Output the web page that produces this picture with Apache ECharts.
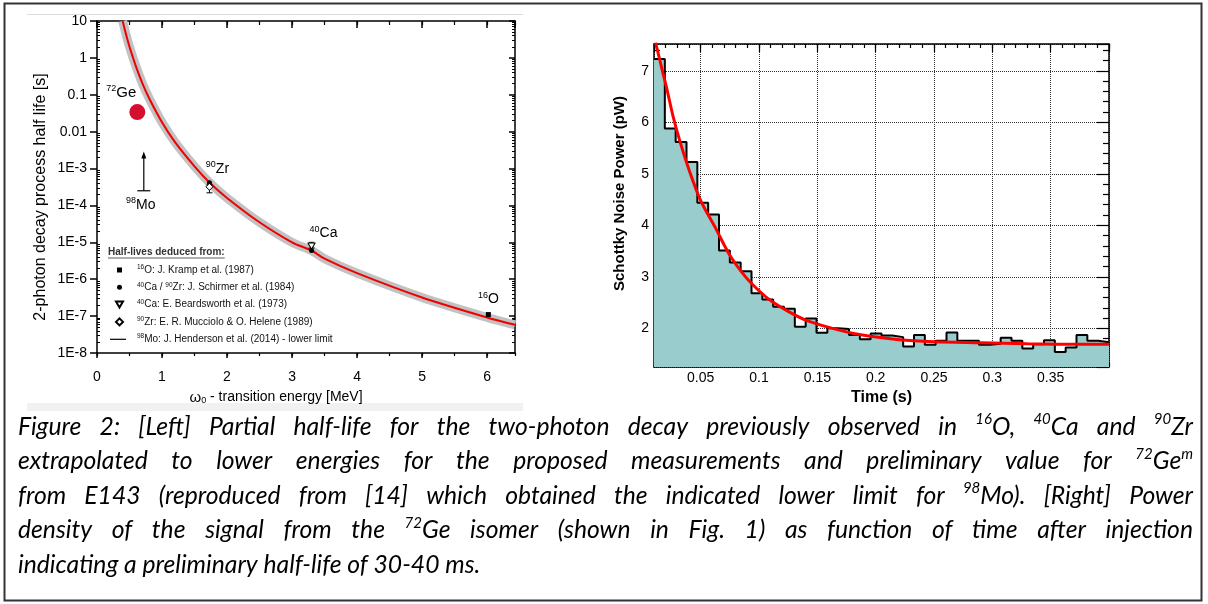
<!DOCTYPE html>
<html>
<head>
<meta charset="utf-8">
<script src="https://cdn.jsdelivr.net/npm/echarts@6.0.0/dist/echarts.min.js"></script>
<style>
html,body{margin:0;padding:0;background:#fff;}
#chart{width:1208px;height:604px;}
</style>
</head>
<body>
<div id="chart"></div>
<script>
// ================= LEFT PANEL DATA =================
// extrapolated partial half-life curve (energy MeV, half-life s)
const curveEnergy   = [0.395, 0.45, 0.5, 0.6, 0.7, 0.8, 1.0, 1.2, 1.5, 1.73, 2.0, 2.5, 3.0, 3.3, 3.5, 4.0, 5.0, 6.0, 6.43];
const curveHalfLife = [10, 4.1, 2.0, 0.58, 0.2, 0.082, 0.018, 5.2e-3, 1.15e-3, 4.2e-4, 1.6e-4, 3.5e-5, 1.0e-5, 6.0e-6, 3.6e-6, 1.46e-6, 3.2e-7, 9.2e-8, 5.8e-8];
// measured points
const krampO16        = [[6.02, 1.1e-7]];
const schirmerCaZr    = [[3.30, 6.0e-6], [1.73, 4.1e-4]];
const beardsworthCa40 = [[3.30, 7.9e-6]];
const beardsworthErr  = [[3.30, 7.0e-6, 1.0e-5]];
const muccioloZr90    = [[1.73, 3.2e-4]];
const muccioloErr     = [[1.73, 2.2e-4, 3.6e-4]];
const ge72            = [[0.62, 0.034]];
const hendersonMo98   = [[0.72, 2.5e-4, 2.9e-3]]; // energy, lower limit, arrow tip
const leftYTickLabels = {'1':'10','0':'1','-1':'0.1','-2':'0.01','-3':'1E-3','-4':'1E-4','-5':'1E-5','-6':'1E-6','-7':'1E-7','-8':'1E-8'};
const legendNames = [
  '16O: J. Kramp et al. (1987)',
  '40Ca / 90Zr: J. Schirmer et al. (1984)',
  '40Ca: E. Beardsworth et al. (1973)',
  '90Zr: E. R. Mucciolo & O. Helene (1989)',
  '98Mo: J. Henderson et al. (2014) - lower limit'
];
const legendRich = [
  '{sup|16}O: J. Kramp et al. (1987)',
  '{sup|40}Ca / {sup|90}Zr: J. Schirmer et al. (1984)',
  '{sup|40}Ca: E. Beardsworth et al. (1973)',
  '{sup|90}Zr: E. R. Mucciolo & O. Helene (1989)',
  '{sup|98}Mo: J. Henderson et al. (2014) - lower limit'
];

// ================= RIGHT PANEL DATA =================
const binStart = 0.01, binEnd = 0.4;
const schottkyPower = [7.23, 5.88, 5.62, 5.23, 4.44, 4.21, 3.51, 3.28, 3.11, 2.68, 2.56, 2.42, 2.38, 2.03,
  2.19, 1.915, 2.0, 1.99, 1.87, 1.79, 1.90, 1.86, 1.83, 1.65, 1.87, 1.68, 1.76, 1.92, 1.76, 1.76, 1.68,
  1.70, 1.82, 1.76, 1.61, 1.69, 1.77, 1.54, 1.63, 1.87, 1.76, 1.73];
const fitTime  = [0.0113, 0.0172, 0.021, 0.0263, 0.032, 0.040, 0.050, 0.062, 0.075, 0.0885, 0.100, 0.1105, 0.125, 0.140, 0.163, 0.186, 0.220, 0.250, 0.290, 0.330, 0.370, 0.400];
const fitPower = [7.55, 7.0, 6.65, 6.12, 5.65, 5.08, 4.48, 3.98, 3.42, 3.0, 2.73, 2.53, 2.33, 2.16, 2.0, 1.88, 1.78, 1.74, 1.72, 1.70, 1.69, 1.69];

// ================= CAPTION =================
const captionLines = [
  'Figure 2: [Left] Partial half-life for the two-photon decay previously observed in ^16^O, ^40^Ca and ^90^Zr',
  'extrapolated to lower energies for the proposed measurements and preliminary value for ^72^Ge^m^',
  'from E143 (reproduced from  [14] which obtained the indicated lower limit for ^98^Mo). [Right] Power',
  'density of the signal from the ^72^Ge isomer (shown in Fig. 1) as function of time after injection',
  'indicating a preliminary half-life of 30-40 ms.'
];

// ---------------------------------------------------------------
const FONT = "'Liberation Sans', Arial, sans-serif";
const chart = echarts.init(document.getElementById('chart'), null, {renderer: 'canvas', width: 1208, height: 604});

const supRich = {sup: {fontSize: 9, lineHeight: 10, verticalAlign: 'top', fontFamily: FONT, color: '#000'}};
function isoLabel(text, offset, size) {
  return {show: true, position: 'inside', offset: offset, formatter: text, fontSize: size || 14,
    fontFamily: FONT, color: '#000', lineHeight: 18, rich: supRich};
}

// minor tick positions (tick layout, not data)
const logMinor = [];
for (let e = -8; e < 1; e++) for (let k = 2; k <= 9; k++) logMinor.push(e + Math.log10(k));
const powMinor = [];
for (let v = 1.4; v < 7.5; v += 0.2) { const r = Math.round(v * 10) / 10; if (Math.abs(r - Math.round(r)) > 1e-6) powMinor.push(r); }

function hidden() { return {show: false}; }
function axLine(show) { return {show: show, onZero: false, lineStyle: {color: '#000', width: 1.5}}; }

const xAxes = [
  // left panel
  {gridIndex: 0, type: 'value', min: 0, max: 6.43, position: 'bottom', minInterval: 1, maxInterval: 1,
   axisLine: axLine(true), axisTick: {show: true, inside: false, length: 5, lineStyle: {color: '#000', width: 1.5}},
   axisLabel: {show: true, margin: 17, fontSize: 14, color: '#000', fontFamily: FONT, showMaxLabel: false},
   splitLine: hidden(),
   name: '{w|ω}{sub|0} - transition energy [MeV]', nameLocation: 'middle', nameGap: 37,
   nameTextStyle: {fontSize: 14, color: '#000', fontFamily: FONT, padding: [0, 60, 0, 0],
     rich: {w: {fontSize: 15, fontFamily: FONT, color: '#000'}, sub: {fontSize: 9, verticalAlign: 'bottom', lineHeight: 8, fontFamily: FONT, color: '#000'}}}},
  {gridIndex: 0, type: 'value', min: 0, max: 6.43, interval: 0.5, position: 'bottom',
   axisLine: axLine(false), axisTick: {show: true, inside: false, length: 3, lineStyle: {color: '#000', width: 1.2}}, axisLabel: hidden(), splitLine: hidden()},
  {gridIndex: 0, type: 'value', min: 0, max: 6.43, position: 'top', minInterval: 1, maxInterval: 1,
   axisLine: axLine(true), axisTick: {show: true, inside: true, length: 7, lineStyle: {color: '#000', width: 1.5}},
   axisLabel: hidden(), splitLine: hidden()},
  {gridIndex: 0, type: 'value', min: 0, max: 6.43, interval: 0.5, position: 'top',
   axisLine: axLine(false), axisTick: {show: true, inside: true, length: 4, lineStyle: {color: '#000', width: 1.2}}, axisLabel: hidden(), splitLine: hidden()},
  // right panel
  {gridIndex: 1, type: 'value', min: binStart, max: binEnd, position: 'bottom', minInterval: 0.05, maxInterval: 0.05,
   axisLine: axLine(true), axisTick: {show: true, inside: true, length: 8, lineStyle: {color: '#000', width: 1.2}},
   axisLabel: {show: true, margin: 4, fontSize: 14, color: '#000', fontFamily: FONT, showMinLabel: false, showMaxLabel: false},
   splitLine: {show: true, lineStyle: {color: '#333', type: 'dotted', width: 1}},
   name: 'Time (s)', nameLocation: 'middle', nameGap: 22,
   nameTextStyle: {fontSize: 16, fontWeight: 'bold', color: '#000', fontFamily: FONT}},
  {gridIndex: 1, type: 'value', min: binStart, max: binEnd, interval: 0.01, position: 'bottom',
   axisLine: axLine(false), axisTick: {show: true, inside: true, length: 4, lineStyle: {color: '#000', width: 1.2}}, axisLabel: hidden(), splitLine: hidden()},
  {gridIndex: 1, type: 'value', min: binStart, max: binEnd, position: 'top', minInterval: 0.05, maxInterval: 0.05,
   axisLine: axLine(true), axisTick: {show: true, inside: true, length: 8, lineStyle: {color: '#000', width: 1.2}},
   axisLabel: hidden(), splitLine: hidden()},
  {gridIndex: 1, type: 'value', min: binStart, max: binEnd, interval: 0.01, position: 'top',
   axisLine: axLine(false), axisTick: {show: true, inside: true, length: 4, lineStyle: {color: '#000', width: 1.2}}, axisLabel: hidden(), splitLine: hidden()}
];

const yAxes = [
  // left panel
  {gridIndex: 0, type: 'log', logBase: 10, min: 1e-8, max: 10, splitNumber: 9, position: 'left',
   axisLine: axLine(true), axisTick: {show: true, inside: false, length: 7, lineStyle: {color: '#000', width: 1.5}},
   axisLabel: {show: true, margin: 10, fontSize: 14, color: '#000', fontFamily: FONT,
     formatter: v => leftYTickLabels[String(Math.round(Math.log10(v)))] || ''},
   splitLine: hidden(),
   name: '2-photon decay process half life [s]', nameLocation: 'middle', nameGap: 48,
   nameTextStyle: {fontSize: 16, color: '#000', fontFamily: FONT, padding: [0, 20, 0, 0]}},
  {gridIndex: 0, type: 'value', min: -8, max: 1, position: 'left',
   axisLine: axLine(false), axisTick: {show: true, inside: true, length: 3, customValues: logMinor, lineStyle: {color: '#000', width: 1}},
   axisLabel: hidden(), splitLine: hidden()},
  {gridIndex: 0, type: 'log', logBase: 10, min: 1e-8, max: 10, splitNumber: 9, position: 'right',
   axisLine: axLine(true), axisTick: {show: true, inside: true, length: 6, lineStyle: {color: '#000', width: 1.5}},
   axisLabel: hidden(), splitLine: hidden()},
  {gridIndex: 0, type: 'value', min: -8, max: 1, position: 'right',
   axisLine: axLine(false), axisTick: {show: true, inside: true, length: 3, customValues: logMinor, lineStyle: {color: '#000', width: 1}},
   axisLabel: hidden(), splitLine: hidden()},
  // right panel
  {gridIndex: 1, type: 'value', min: 1.25, max: 7.52, position: 'left', minInterval: 1, maxInterval: 1,
   axisLine: axLine(true), axisTick: {show: true, inside: true, length: 12, lineStyle: {color: '#000', width: 1.2}},
   axisLabel: {show: true, margin: 5, fontSize: 14, color: '#000', fontFamily: FONT, showMinLabel: false, showMaxLabel: false},
   splitLine: {show: true, lineStyle: {color: '#333', type: 'dotted', width: 1}},
   name: 'Schottky Noise Power (pW)', nameLocation: 'middle', nameGap: 27,
   nameTextStyle: {fontSize: 15, fontWeight: 'bold', color: '#000', fontFamily: FONT, padding: [0, 0, 0, 24]}},
  {gridIndex: 1, type: 'value', min: 1.25, max: 7.52, position: 'left',
   axisLine: axLine(false), axisTick: {show: true, inside: true, length: 6, customValues: powMinor, lineStyle: {color: '#000', width: 1.2}},
   axisLabel: hidden(), splitLine: hidden()},
  {gridIndex: 1, type: 'value', min: 1.25, max: 7.52, position: 'right', minInterval: 1, maxInterval: 1,
   axisLine: axLine(true), axisTick: {show: true, inside: true, length: 12, lineStyle: {color: '#000', width: 1.2}},
   axisLabel: hidden(), splitLine: hidden()},
  {gridIndex: 1, type: 'value', min: 1.25, max: 7.52, position: 'right',
   axisLine: axLine(false), axisTick: {show: true, inside: true, length: 6, customValues: powMinor, lineStyle: {color: '#000', width: 1.2}},
   axisLabel: hidden(), splitLine: hidden()}
];

const curveData = curveEnergy.map((e, i) => [e, curveHalfLife[i]]);
const histData = schottkyPower.map((v, i) => [binStart + i * (binEnd - binStart) / schottkyPower.length, v]);
histData.push([binEnd, schottkyPower[schottkyPower.length - 1]]);
const fitData = fitTime.map((t, i) => [t, fitPower[i]]);

function errorBarItem(params, api) {
  const x = api.value(0);
  const p1 = api.coord([x, api.value(1)]);
  const p2 = api.coord([x, api.value(2)]);
  const st = {stroke: '#000', lineWidth: 1};
  return {type: 'group', children: [
    {type: 'line', shape: {x1: p1[0], y1: p1[1], x2: p2[0], y2: p2[1]}, style: st},
    {type: 'line', shape: {x1: p1[0] - 3, y1: p1[1], x2: p1[0] + 3, y2: p1[1]}, style: st},
    {type: 'line', shape: {x1: p2[0] - 3, y1: p2[1], x2: p2[0] + 3, y2: p2[1]}, style: st}
  ]};
}
function arrowItem(params, api) {
  const x = api.value(0);
  const b = api.coord([x, api.value(1)]);
  const t = api.coord([x, api.value(2)]);
  const st = {stroke: '#000', lineWidth: 1.2};
  return {type: 'group', children: [
    {type: 'line', shape: {x1: b[0] - 6.5, y1: b[1], x2: b[0] + 6.5, y2: b[1]}, style: st},
    {type: 'line', shape: {x1: b[0], y1: b[1], x2: t[0], y2: t[1] + 6}, style: st},
    {type: 'polygon', shape: {points: [[t[0], t[1]], [t[0] - 2.5, t[1] + 7], [t[0] + 2.5, t[1] + 7]]}, style: {fill: '#000'}},
    {type: 'text', x: b[0] - 3, y: b[1] + 14, style: {text: '{sup|98}Mo', align: 'center', verticalAlign: 'middle',
      fontSize: 14, fontFamily: FONT, fill: '#000', lineHeight: 18, rich: supRich}}
  ]};
}

const series = [
  {type: 'line', xAxisIndex: 0, yAxisIndex: 0, data: curveData, smooth: 0.3, symbol: 'none', silent: true, z: 2,
   lineStyle: {color: '#c2c2c2', width: 9}},
  {type: 'line', xAxisIndex: 0, yAxisIndex: 0, data: curveData, smooth: 0.3, symbol: 'none', silent: true, z: 3,
   lineStyle: {color: '#f00000', width: 2}},
  {name: legendNames[0], type: 'scatter', xAxisIndex: 0, yAxisIndex: 0, symbol: 'rect', symbolSize: 5, z: 5,
   itemStyle: {color: '#000', opacity: 1},
   data: krampO16.map(p => ({value: p, label: isoLabel('{sup|16}O', [0, -15])}))},
  {name: legendNames[1], type: 'scatter', xAxisIndex: 0, yAxisIndex: 0, symbol: 'circle', symbolSize: 5, z: 5,
   itemStyle: {color: '#000', opacity: 1},
   data: schirmerCaZr.map((p, i) => ({value: p, label: i === 0 ? isoLabel('{sup|40}Ca', [12, -17]) : isoLabel('{sup|90}Zr', [8, -14])}))},
  {type: 'custom', xAxisIndex: 0, yAxisIndex: 0, data: beardsworthErr, encode: {x: 0, y: [1, 2]}, renderItem: errorBarItem, silent: true, z: 4},
  {name: legendNames[2], type: 'scatter', xAxisIndex: 0, yAxisIndex: 0, symbol: 'path://M0,0L10,0L5,9Z', symbolSize: [7, 6], z: 5,
   itemStyle: {color: '#fff', borderColor: '#000', borderWidth: 1, opacity: 1}, data: beardsworthCa40},
  {type: 'custom', xAxisIndex: 0, yAxisIndex: 0, data: muccioloErr, encode: {x: 0, y: [1, 2]}, renderItem: errorBarItem, silent: true, z: 4},
  {name: legendNames[3], type: 'scatter', xAxisIndex: 0, yAxisIndex: 0, symbol: 'diamond', symbolSize: 7, z: 5,
   itemStyle: {color: '#fff', borderColor: '#000', borderWidth: 1, opacity: 1}, data: muccioloZr90},
  {name: legendNames[4], type: 'custom', xAxisIndex: 0, yAxisIndex: 0, data: hendersonMo98, encode: {x: 0, y: [1, 2]},
   renderItem: arrowItem, itemStyle: {color: '#000'}, z: 5},
  {type: 'scatter', xAxisIndex: 0, yAxisIndex: 0, symbol: 'circle', symbolSize: 16, z: 6,
   itemStyle: {color: '#d40f2f', opacity: 1},
   data: ge72.map(p => ({value: p, label: isoLabel('{sup|72}Ge', [-16, -19], 15)}))},
  // right panel
  {type: 'line', xAxisIndex: 4, yAxisIndex: 4, data: histData, step: 'end', symbol: 'none', z: 2,
   lineStyle: {color: '#000', width: 2}, areaStyle: {color: '#99cccc', opacity: 1, origin: 'start'}},
  {type: 'line', xAxisIndex: 4, yAxisIndex: 4, data: fitData, smooth: 0.3, symbol: 'none', z: 3,
   lineStyle: {color: '#ff0000', width: 3}}
];

// ---------------- caption layout (word-justified) ----------------
const CAP_FAMILY = 'Lato', CAP_LEFT = 18, CAP_RIGHT = 1193, CAP_LAST_RIGHT = 480, CAP_TOP0 = 412, CAP_STEP = 34.5;
const mctx = document.createElement('canvas').getContext('2d');
mctx.font = 'italic normal 20px ' + CAP_FAMILY;
const lastWidth20 = mctx.measureText(captionLines[captionLines.length - 1]).width;
const CAP_FS = Math.round(20 * (CAP_LAST_RIGHT - CAP_LEFT) / lastWidth20 * 10) / 10;
const CAP_SUP = Math.round(CAP_FS * 0.62);
function measureWord(w) {
  const parts = w.split('^');
  let width = 0, rich = '';
  parts.forEach((p, i) => {
    if (!p) return;
    if (i % 2 === 1) { mctx.font = 'italic normal ' + CAP_SUP + 'px ' + CAP_FAMILY; width += mctx.measureText(p).width; rich += '{s|' + p + '}'; }
    else { mctx.font = 'italic normal ' + CAP_FS + 'px ' + CAP_FAMILY; width += mctx.measureText(p).width; rich += p; }
  });
  return {width, rich};
}
const graphics = [];
captionLines.forEach((line, li) => {
  const words = line.split(' ').filter(w => w.length).map(measureWord);
  const total = words.reduce((s, w) => s + w.width, 0);
  mctx.font = 'italic normal ' + CAP_FS + 'px ' + CAP_FAMILY;
  const space = mctx.measureText(' ').width;
  const justify = li < captionLines.length - 1;
  const gap = justify ? (CAP_RIGHT - CAP_LEFT - total) / (words.length - 1) : space;
  let x = CAP_LEFT;
  words.forEach(w => {
    graphics.push({type: 'text', x: x, y: CAP_TOP0 + li * CAP_STEP, silent: true,
      style: {text: w.rich, fontSize: CAP_FS, fontStyle: 'italic', fontFamily: CAP_FAMILY, fill: '#000', lineHeight: 30,
        align: 'left', verticalAlign: 'top',
        rich: {s: {fontSize: CAP_SUP, fontStyle: 'italic', fontFamily: CAP_FAMILY, fill: '#000', color: '#000', lineHeight: CAP_SUP + 3, verticalAlign: 'top'}}}});
    x += w.width + gap;
  });
});
// legend heading
mctx.font = "normal bold 10px 'Liberation Sans'";
const headW = mctx.measureText('Half-lives deduced from:').width;
graphics.push({type: 'text', x: 108, y: 252, silent: true, style: {text: 'Half-lives deduced from:', fontSize: 10, fontWeight: 'bold', fontFamily: FONT, fill: '#333', verticalAlign: 'middle'}});
graphics.push({type: 'line', silent: true, shape: {x1: 108, y1: 258, x2: 108 + headW, y2: 258}, style: {stroke: '#333', lineWidth: 0.8}});
// frames
graphics.push({type: 'rect', silent: true, z: -10, shape: {x: 27, y: 403, width: 496, height: 8}, style: {fill: '#f1f1f1'}});
graphics.push({type: 'line', silent: true, shape: {x1: 27, y1: 14.5, x2: 523, y2: 14.5}, style: {stroke: '#dcdcdc', lineWidth: 1}});
graphics.push({type: 'rect', silent: true, shape: {x: 4.5, y: 3.5, width: 1197, height: 597}, style: {fill: 'none', stroke: '#333', lineWidth: 2}});

// legend icons drawn in a 25x7 box (zero-length anchors fix the box)
const BOX = 'M0,0L0,0 M25,7L25,7 ';
const option = {
  backgroundColor: '#fff',
  animation: false,
  grid: [
    {left: 97, top: 21, width: 418, height: 332, outerBoundsMode: 'none'},
    {left: 654, top: 44, width: 455, height: 323, outerBoundsMode: 'none'}
  ],
  xAxis: xAxes,
  yAxis: yAxes,
  legend: {
    orient: 'vertical', left: 106, top: 264, itemWidth: 25, itemHeight: 7, itemGap: 5.3, padding: 0,
    selectedMode: false, symbolKeepAspect: true,
    data: [
      {name: legendNames[0], icon: 'path://' + BOX + 'M10,1L15,1L15,6L10,6Z'},
      {name: legendNames[1], icon: 'path://' + BOX + 'M10,3.5A2.5,2.5 0 1,0 15,3.5A2.5,2.5 0 1,0 10,3.5Z'},
      {name: legendNames[2], icon: 'path://' + BOX + 'M9,0.5L16,0.5L12.5,6.5Z'},
      {name: legendNames[3], icon: 'path://' + BOX + 'M12.5,0L16,3.5L12.5,7L9,3.5Z'},
      {name: legendNames[4], icon: 'path://' + BOX + 'M3,3L19,3L19,4.2L3,4.2Z'}
    ],
    formatter: name => legendRich[legendNames.indexOf(name)],
    textStyle: {fontSize: 10, lineHeight: 12, color: '#111', fontFamily: FONT,
      rich: {sup: {fontSize: 6.5, lineHeight: 7, verticalAlign: 'top', fontFamily: FONT, color: '#111'}}}
  },
  graphic: graphics,
  series: series
};
chart.setOption(option);
</script>
</body>
</html>
